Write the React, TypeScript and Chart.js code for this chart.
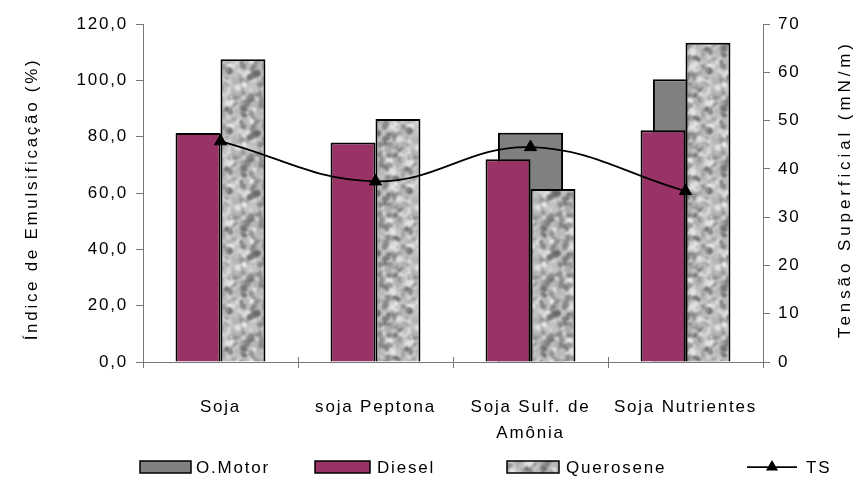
import React, { useEffect, useRef } from 'react';
import { Chart, registerables } from 'chart.js';

Chart.register(...registerables);

// Categories (multi-line label is an array of lines)
const categories: (string | string[])[] = ['Soja', 'soja Peptona', ['Soja Sulf. de', 'Amônia'], 'Soja Nutrientes'];

// Emulsification index (%) per fuel
const oMotor: (number | null)[] = [null, null, 81.4, 100.4];
const diesel: number[] = [81.3, 77.9, 72.0, 82.3];
const querosene: number[] = [107.5, 86.3, 61.4, 113.3];

// Surface tension (mN/m)
const ts: number[] = [45.7, 37.4, 44.5, 35.4];

// Axis ranges
const leftMax = 120;
const leftStep = 20;
const rightMax = 70;
const rightStep = 10;

const legendItems = ['O.Motor', 'Diesel', 'Querosene', 'TS'];

const FONT = "'Liberation Sans', Arial, sans-serif";
const FONT_SIZE = 17;
const SPACING = '1.8px';
const AXIS_GRAY = '#777777';
const DIESEL_COLOR = '#993366';
const MOTOR_COLOR = '#808080';

function mulberry32(a: number) {
  return function () {
    a |= 0;
    a = (a + 0x6d2b79f5) | 0;
    let t = Math.imul(a ^ (a >>> 15), 1 | a);
    t = (t + Math.imul(t ^ (t >>> 7), 61 | t)) ^ t;
    return ((t ^ (t >>> 14)) >>> 0) / 4294967296;
  };
}

// Granite-like fill used for the Querosene bars
function makeGranite(): CanvasPattern | string {
  const size = 60;
  const base = document.createElement('canvas');
  base.width = size;
  base.height = size;
  const g = base.getContext('2d');
  if (!g) return '#c0c0c0';
  g.fillStyle = '#c2c2c2';
  g.fillRect(0, 0, size, size);
  const rnd = mulberry32(4711);
  for (let i = 0; i < 280; i++) {
    const x = rnd() * size;
    const y = rnd() * size;
    const r = 1.2 + rnd() * 2.4;
    const pick = rnd();
    let v: number;
    if (pick < 0.4) v = Math.round(105 + rnd() * 45);
    else if (pick < 0.72) v = Math.round(205 + rnd() * 35);
    else v = Math.round(165 + rnd() * 30);
    g.fillStyle = `rgb(${v},${v},${v})`;
    const rx = r * (0.7 + rnd() * 0.8);
    const rot = rnd() * Math.PI;
    for (const dx of [-size, 0, size]) {
      for (const dy of [-size, 0, size]) {
        g.beginPath();
        g.ellipse(x + dx, y + dy, rx, r, rot, 0, Math.PI * 2);
        g.fill();
      }
    }
  }
  const big = document.createElement('canvas');
  big.width = size * 3;
  big.height = size * 3;
  const b = big.getContext('2d');
  if (!b) return '#c0c0c0';
  for (let i = 0; i < 3; i++) for (let j = 0; j < 3; j++) b.drawImage(base, i * size, j * size);
  const blurred = document.createElement('canvas');
  blurred.width = size * 3;
  blurred.height = size * 3;
  const bl = blurred.getContext('2d');
  if (!bl) return '#c0c0c0';
  bl.filter = 'blur(1.1px)';
  bl.drawImage(big, 0, 0);
  const out = document.createElement('canvas');
  out.width = size;
  out.height = size;
  const o = out.getContext('2d');
  if (!o) return '#c0c0c0';
  o.drawImage(blurred, size, size, size, size, 0, 0, size, size);
  const p = o.createPattern(out, 'repeat');
  return p || '#c0c0c0';
}

export default function App() {
  const canvasRef = useRef<HTMLCanvasElement | null>(null);

  useEffect(() => {
    const canvas = canvasRef.current;
    if (!canvas) return;
    const granite = makeGranite();

    const spacingPlugin = {
      id: 'letterSpacing',
      beforeLayout(chart: any) {
        chart.ctx.letterSpacing = SPACING;
      },
      beforeDraw(chart: any) {
        chart.ctx.letterSpacing = SPACING;
      },
    };

    const decorPlugin = {
      id: 'decor',
      afterDraw(chart: any) {
        const ctx = chart.ctx as CanvasRenderingContext2D;
        const { top, bottom } = chart.chartArea;
        const xs = chart.scales.x;
        ctx.save();

        // upper half of the crossing category ticks
        ctx.strokeStyle = AXIS_GRAY;
        ctx.lineWidth = 1;
        const n = categories.length;
        for (let i = 0; i <= n; i++) {
          const px = Math.round(xs.left + (i * (xs.right - xs.left)) / n) + 0.5;
          ctx.beginPath();
          ctx.moveTo(px, bottom - 5);
          ctx.lineTo(px, bottom);
          ctx.stroke();
        }

        // axis titles
        ctx.fillStyle = '#000';
        ctx.font = `${FONT_SIZE}px ${FONT}`;
        ctx.textAlign = 'center';
        ctx.textBaseline = 'middle';
        (ctx as any).letterSpacing = '2.7px';
        ctx.save();
        ctx.translate(32, (top + bottom) / 2 + 6);
        ctx.rotate(-Math.PI / 2);
        ctx.fillText('Índice de Emulsificação (%)', 0, 0);
        ctx.restore();
        (ctx as any).letterSpacing = '3.9px';
        ctx.save();
        ctx.translate(845, (top + bottom) / 2 - 4);
        ctx.rotate(-Math.PI / 2);
        ctx.fillText('Tensão Superficial (mN/m)', 0, 0);
        ctx.restore();

        // legend
        (ctx as any).letterSpacing = SPACING;
        ctx.textAlign = 'left';
        const ly = 467;
        const sw = [
          { x0: 140, x1: 191, tx: 196, fill: MOTOR_COLOR as any },
          { x0: 315, x1: 370, tx: 377, fill: DIESEL_COLOR as any },
          { x0: 507, x1: 559, tx: 566, fill: granite as any },
        ];
        sw.forEach((s, i) => {
          ctx.fillStyle = s.fill;
          ctx.fillRect(s.x0, ly - 6, s.x1 - s.x0, 12);
          ctx.strokeStyle = '#000';
          ctx.lineWidth = 1.5;
          ctx.strokeRect(s.x0, ly - 6, s.x1 - s.x0, 12);
          ctx.fillStyle = '#000';
          ctx.fillText(legendItems[i], s.tx, ly + 1);
        });
        ctx.strokeStyle = '#000';
        ctx.lineWidth = 1.75;
        ctx.beginPath();
        ctx.moveTo(747, ly);
        ctx.lineTo(797, ly);
        ctx.stroke();
        ctx.fillStyle = '#000';
        ctx.beginPath();
        const r = 7;
        ctx.moveTo(772, ly - r);
        ctx.lineTo(772 + r * Math.sin((2 * Math.PI) / 3), ly + r / 2);
        ctx.lineTo(772 - r * Math.sin((2 * Math.PI) / 3), ly + r / 2);
        ctx.closePath();
        ctx.fill();
        ctx.fillText(legendItems[3], 806, ly + 1);

        ctx.restore();
      },
    };

    const tickFont = { family: FONT, size: FONT_SIZE, lineHeight: 1.53 };

    const chart = new Chart(canvas, {
      type: 'bar',
      data: {
        labels: categories as any,
        datasets: [
          {
            type: 'line',
            label: 'TS',
            data: ts,
            yAxisID: 'y1',
            borderColor: '#000',
            borderWidth: 1.75,
            tension: 0.4,
            pointStyle: 'triangle',
            pointRadius: 7,
            pointBorderWidth: 1,
            pointBackgroundColor: '#000',
            pointBorderColor: '#000',
            order: 0,
          } as any,
          {
            type: 'bar',
            label: 'O.Motor',
            data: oMotor,
            yAxisID: 'y',
            backgroundColor: MOTOR_COLOR,
            borderColor: '#000',
            borderWidth: 2,
            grouped: false,
            categoryPercentage: 0.42,
            barPercentage: 1,
            order: 2,
          } as any,
          {
            type: 'bar',
            label: 'Diesel',
            data: diesel,
            yAxisID: 'y',
            backgroundColor: DIESEL_COLOR,
            borderColor: '#000',
            borderWidth: 2,
            categoryPercentage: 0.58,
            barPercentage: 1,
            order: 1,
          } as any,
          {
            type: 'bar',
            label: 'Querosene',
            data: querosene,
            yAxisID: 'y',
            backgroundColor: granite as any,
            borderColor: '#000',
            borderWidth: 2,
            categoryPercentage: 0.58,
            barPercentage: 1,
            order: 1,
          } as any,
        ],
      },
      options: {
        animation: false,
        responsive: true,
        maintainAspectRatio: false,
        layout: { padding: { top: 24, bottom: 48, left: 0, right: 0 } },
        plugins: {
          legend: { display: false },
          tooltip: { enabled: false },
          title: { display: false },
        },
        scales: {
          x: {
            offset: true,
            grid: {
              offset: true,
              drawOnChartArea: false,
              drawTicks: true,
              tickLength: 6,
              color: AXIS_GRAY,
            },
            border: { color: AXIS_GRAY, width: 1 },
            ticks: {
              color: '#000',
              font: tickFont,
              padding: 26,
              maxRotation: 0,
              autoSkip: false,
            },
            afterFit(scale: any) {
              scale.height = 90;
            },
          },
          y: {
            position: 'left',
            min: 0,
            max: leftMax,
            grid: { drawOnChartArea: false, tickLength: 7, color: AXIS_GRAY },
            border: { color: AXIS_GRAY, width: 1 },
            ticks: {
              stepSize: leftStep,
              color: '#000',
              font: tickFont,
              padding: 8,
              callback: (v: any) => Number(v).toFixed(1).replace('.', ','),
            },
            afterFit(scale: any) {
              scale.width = 143;
            },
          },
          y1: {
            position: 'right',
            min: 0,
            max: rightMax,
            grid: { drawOnChartArea: false, tickLength: 7, color: AXIS_GRAY },
            border: { color: AXIS_GRAY, width: 1 },
            ticks: {
              stepSize: rightStep,
              color: '#000',
              font: tickFont,
              padding: 8,
              callback: (v: any) => String(v),
            },
            afterFit(scale: any) {
              scale.width = 100;
            },
          },
        },
      } as any,
      plugins: [spacingPlugin, decorPlugin],
    });

    return () => {
      chart.destroy();
    };
  }, []);

  return (
    <div
      style={{
        position: 'fixed',
        left: 0,
        top: 0,
        width: 863,
        height: 500,
        background: '#ffffff',
      }}
    >
      <canvas ref={canvasRef} />
    </div>
  );
}
